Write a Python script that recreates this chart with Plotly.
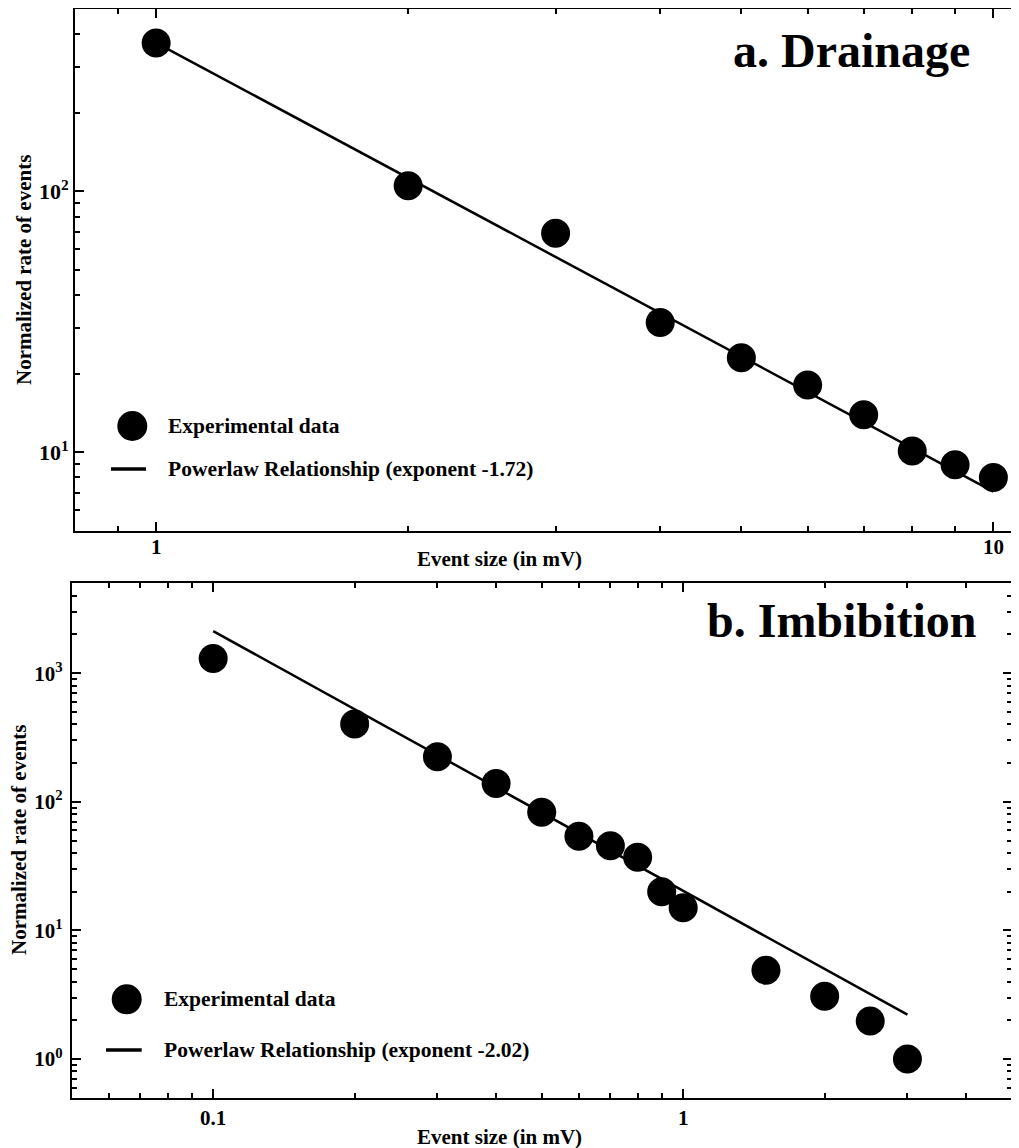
import plotly.graph_objects as go
import math

# ---------------- data ----------------
drain_x = [1, 2, 3, 4, 5, 6, 7, 8, 9, 10]
drain_y = [370, 105, 69, 31.4, 23.0, 18.1, 13.9, 10.1, 8.94, 8.0]
drain_fit_x = [1, 10]
drain_fit_y = [371, 7.06]

imb_x = [0.1, 0.2, 0.3, 0.4, 0.5, 0.6, 0.7, 0.8, 0.9, 1.0, 1.5, 2.0, 2.5, 3.0]
imb_y = [1300, 403, 224, 139, 83, 54, 45.6, 37, 20, 15, 4.9, 3.08, 1.97, 1.0]
imb_fit_x = [0.1, 3]
imb_fit_y = [2124, 2.21]

a_xticks = [1, 10]
a_xticktext = ["1", "10"]
a_yticks = [10, 100]
a_yticktext = ["10<sup>1</sup>", "10<sup>2</sup>"]
b_xticks = [0.1, 1]
b_xticktext = ["0.1", "1"]
b_yticks = [1, 10, 100, 1000]
b_yticktext = ["10<sup>0</sup>", "10<sup>1</sup>", "10<sup>2</sup>", "10<sup>3</sup>"]

title_a = "a. Drainage"
title_b = "b. Imbibition"
xlabel = "Event size (in mV)"
ylabel = "Normalized rate of events"
leg_data = "Experimental data"
leg_fit_a = "Powerlaw Relationship (exponent -1.72)"
leg_fit_b = "Powerlaw Relationship (exponent -2.02)"

# ---------------- layout helpers ----------------
OFF = 8                      # page body margin
W, H = 1019 - OFF, 1148 - OFF
FONT = "Liberation Serif, Times New Roman, Times, serif"


def fx(px):
    return (px - OFF) / W


def fy(py):
    return 1 - (py - OFF) / H


def minor_vals(lo, hi):
    vals = []
    for e in range(-3, 5):
        for m in range(2, 10):
            v = m * 10 ** e
            if lo * 1.001 < v < hi * 0.999:
                vals.append(v)
    return vals


def log_axis(rng, tickvals, ticktext, domain, anchor, mirror, standoff=0, size=21):
    return dict(
        type="log",
        range=[math.log10(rng[0]), math.log10(rng[1])],
        domain=domain,
        anchor=anchor,
        showline=True, linecolor="black", linewidth=2,
        mirror=mirror,
        ticks="inside", ticklen=9, tickwidth=1.5, tickcolor="black",
        tickmode="array", tickvals=tickvals, ticktext=ticktext,
        ticklabelstandoff=standoff,
        showgrid=False, zeroline=False,
        tickfont=dict(family=FONT, size=size, color="black", weight="bold"),
        minor=dict(ticks="inside", ticklen=5, tickwidth=1.5, tickcolor="black",
                   tickmode="array", tickvals=minor_vals(rng[0], rng[1]),
                   showgrid=False),
    )


fig = go.Figure()

MS = 29
LW = 2.5
fig.add_trace(go.Scatter(x=drain_fit_x, y=drain_fit_y, mode="lines",
                         line=dict(color="black", width=LW),
                         xaxis="x", yaxis="y", showlegend=False))
fig.add_trace(go.Scatter(x=drain_x, y=drain_y, mode="markers",
                         marker=dict(size=MS, color="black"),
                         xaxis="x", yaxis="y", showlegend=False))
fig.add_trace(go.Scatter(x=imb_fit_x, y=imb_fit_y, mode="lines",
                         line=dict(color="black", width=LW),
                         xaxis="x2", yaxis="y2", showlegend=False))
fig.add_trace(go.Scatter(x=imb_x, y=imb_y, mode="markers",
                         marker=dict(size=MS, color="black"),
                         xaxis="x2", yaxis="y2", showlegend=False))

a_xdom = [fx(75), 1.0]
a_ydom = [fy(530.7), fy(9)]
b_xdom = [fx(71.7), fx(1011.7)]
b_ydom = [fy(1097.7), fy(583.3)]

fig.update_layout(
    width=W, height=H,
    margin=dict(l=0, r=0, t=0, b=0),
    paper_bgcolor="white", plot_bgcolor="white",
    showlegend=False,
    xaxis=log_axis([0.8, 10.73], a_xticks, a_xticktext, a_xdom, "y", "ticks", standoff=-4),
    yaxis=log_axis([5, 500], a_yticks, a_yticktext, a_ydom, "x", False, size=22),
    xaxis2=log_axis([0.05, 5], b_xticks, b_xticktext, b_xdom, "y2", "ticks"),
    yaxis2=log_axis([0.5, 5000], b_yticks, b_yticktext, b_ydom, "x2", "ticks", standoff=3),
)

ann = []


def text(t, x, y, size, xanchor="left", yanchor="middle", angle=0):
    ann.append(dict(text=t, x=fx(x), y=fy(y), xref="paper", yref="paper",
                    xanchor=xanchor, yanchor=yanchor, showarrow=False,
                    textangle=angle,
                    font=dict(family=FONT, size=size, color="black", weight="bold")))


# panel titles
text(title_a, 972, 50, 48, xanchor="right")
text(title_b, 978, 620, 48, xanchor="right")
# axis titles
text(xlabel, 499, 559, 21, xanchor="center")
text(xlabel, 499, 1137, 21, xanchor="center")
text(ylabel, 24, 270, 21, xanchor="center", angle=-90)
text(ylabel, 19, 840, 21, xanchor="center", angle=-90)
# legend texts
text(leg_data, 166, 426, 21.5)
text(leg_fit_a, 166, 469, 21.5)
text(leg_data, 162, 999, 21.5)
text(leg_fit_b, 162, 1050, 21.5)

shapes = []


def circle(cx, cy, d):
    shapes.append(dict(type="circle", xref="paper", yref="paper",
                       x0=fx(cx - d / 2), x1=fx(cx + d / 2),
                       y0=fy(cy + d / 2), y1=fy(cy - d / 2),
                       fillcolor="black", line=dict(color="black", width=0)))


def hline(x0, x1, y):
    shapes.append(dict(type="line", xref="paper", yref="paper",
                       x0=fx(x0), x1=fx(x1), y0=fy(y), y1=fy(y),
                       line=dict(color="black", width=3.5)))


circle(132.3, 426, 30)
hline(111, 146, 469)
circle(126.7, 999.3, 30)
hline(106, 141.7, 1050)

fig.update_layout(annotations=ann, shapes=shapes)

fig.write_html("out.html")
